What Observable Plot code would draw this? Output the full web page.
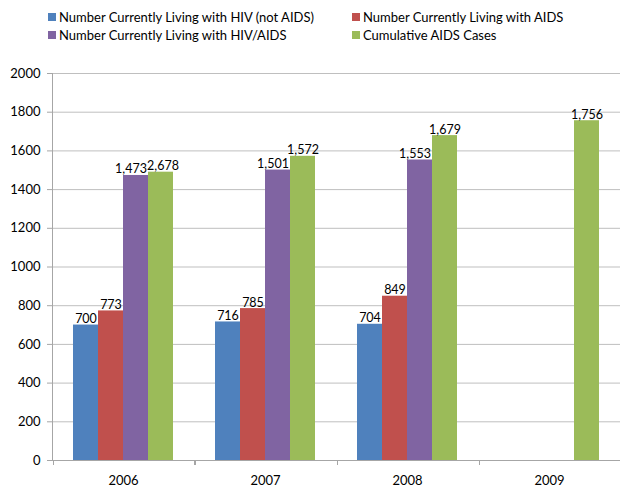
<!DOCTYPE html>
<html>
<head>
<meta charset="utf-8">
<script src="https://cdn.jsdelivr.net/npm/d3@7"></script>
<script src="https://cdn.jsdelivr.net/npm/@observablehq/plot@0.6"></script>
<style>
  html, body { margin: 0; padding: 0; background: #fff; }
  body { width: 630px; height: 495px; overflow: hidden; font-family: Lato, "Open Sans", sans-serif; }
  #legend { position: relative; height: 55px; font-size: 13px; color: #000; }
  .item { position: absolute; display: flex; align-items: center; white-space: nowrap; }
  .sw { width: 8px; height: 8px; margin-right: 3px; }
</style>
</head>
<body>
<div id="legend"></div>
<div id="chart"></div>
<script>
// Survey years (one group of bars per year)
const years = ["2006", "2007", "2008", "2009"];

// Series names, in bar order inside each group
const seriesNames = [
  "Number Currently Living with HIV (not AIDS)",
  "Number Currently Living with AIDS",
  "Number Currently Living with HIV/AIDS",
  "Cumulative AIDS Cases"
];
const seriesColors = ["#4F81BD", "#C0504D", "#8064A2", "#9BBB59"];

// Values per series, by year (null = not reported)
const hivNotAids = [700, 716, 704, null];
const livingAids = [773, 785, 849, null];
const hivAids = [1473, 1501, 1553, null];
const cumulativeAids = [1490, 1572, 1679, 1756];
// Printed label for the cumulative series (2006 is printed as 2,678)
const cumulativeLabels = ["2,678", "1,572", "1,679", "1,756"];

const yTicks = [0, 200, 400, 600, 800, 1000, 1200, 1400, 1600, 1800, 2000];

const seriesValues = [hivNotAids, livingAids, hivAids, cumulativeAids];
const fmt = d3.format(",");
const rows = [];
years.forEach((year, i) => {
  seriesValues.forEach((vals, s) => {
    if (vals[i] == null) return;
    const label = s === 3 ? cumulativeLabels[i] : fmt(vals[i]);
    // Wide labels next to a taller bar shift left; a label next to a
    // bar of nearly the same height shifts right.
    const prev = s > 0 ? seriesValues[s - 1][i] : null;
    const next = s < 3 ? seriesValues[s + 1][i] : null;
    let nudge = 0;
    if (next != null && next > vals[i] && label.length >= 5) nudge = -1;
    else if (prev != null && Math.abs(prev - vals[i]) < 60) nudge = 1;
    rows.push({year, series: seriesNames[s], value: vals[i], label, nudge});
  });
});

// Legend: two rows, two columns
const legend = document.getElementById("legend");
const legendPos = [[48, 17], [352, 17], [48, 35], [352, 35]];
seriesNames.forEach((name, i) => {
  const el = document.createElement("div");
  el.className = "item";
  el.style.left = legendPos[i][0] + "px";
  el.style.top = (legendPos[i][1] - 8) + "px";
  el.innerHTML = `<span class="sw" style="background:${seriesColors[i]}"></span><span>${name}</span>`;
  legend.appendChild(el);
});

const W = 630, H = 440, mL = 51, mR = 10, mT = 18, mB = 35;
const axisGray = "#a6a6a6";

// Axis line on the left and band-boundary ticks along the bottom.
// Drawn once, in the first (untranslated) facet.
let axisDrawn = false;
const axisLines = (index, scales, values, dimensions) => {
  if (axisDrawn) return null;
  axisDrawn = true;
  const {width, height, marginLeft, marginRight, marginTop, marginBottom} = dimensions;
  const g = d3.create("svg:g").attr("stroke", axisGray).attr("fill", "none");
  const y0 = height - marginBottom;
  g.append("line").attr("x1", marginLeft + 0.5).attr("x2", marginLeft + 0.5)
    .attr("y1", marginTop).attr("y2", y0);
  const bounds = years.map(y => scales.fx(y)).concat([width - marginRight]);
  bounds.forEach(x => {
    g.append("line").attr("x1", x + 0.5).attr("x2", x + 0.5).attr("y1", y0).attr("y2", y0 + 5);
  });
  return g.node();
};

const labelOpts = {fx: "year", x: "series", y: "value", text: "label", lineAnchor: "bottom", dy: -2, fontSize: 12.5, fill: "#000"};

const chart = Plot.plot({
  width: W,
  height: H,
  marginLeft: mL,
  marginRight: mR,
  marginTop: mT,
  marginBottom: mB,
  style: {fontFamily: "Lato, 'Open Sans', sans-serif", fontSize: "13px", color: "#000", background: "#fff"},
  fx: {domain: years, padding: 0, label: null},
  x: {domain: seriesNames, padding: 0, paddingOuter: 0.757, axis: null},
  y: {domain: [0, 2000], ticks: yTicks, label: null},
  color: {domain: seriesNames, range: seriesColors},
  marks: [
    Plot.gridY(yTicks, {stroke: "#bfbfbf", strokeOpacity: 1}),
    Plot.axisY(yTicks, {tickSize: 5, tickPadding: 7, stroke: axisGray, tickFormat: d => String(d), fontSize: 13, label: null}),
    Plot.barY(rows, {fx: "year", x: "series", y: "value", fill: "series", inset: 0}),
    Plot.text(rows.filter(d => d.nudge === 0), labelOpts),
    Plot.text(rows.filter(d => d.nudge < 0), {...labelOpts, dx: -5}),
    Plot.text(rows.filter(d => d.nudge > 0), {...labelOpts, dx: 2}),
    Plot.ruleY([0], {stroke: axisGray}),
    Plot.axisFx({anchor: "bottom", tickSize: 0, tickPadding: 15, fontSize: 13, label: null}),
    axisLines
  ]
});
document.getElementById("chart").appendChild(chart);
</script>
</body>
</html>
